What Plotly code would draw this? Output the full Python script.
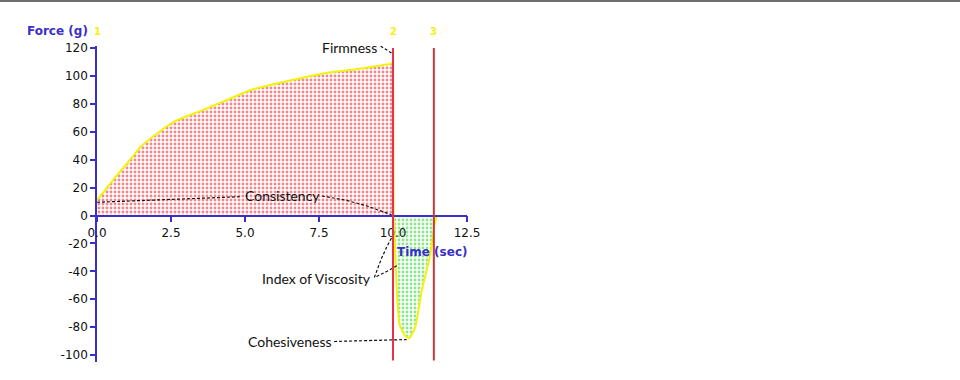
import plotly.graph_objects as go

# ---- data ----
t_pos = [0.0, 0.27, 0.6, 0.88, 1.2, 1.46, 2.04, 2.58, 3.5, 4.3, 5.2, 6.55, 7.7, 8.8, 9.95, 10.0]
f_pos = [11.0, 18.0, 27.0, 34.0, 42.0, 49.0, 59.0, 67.0, 75.0, 82.0, 90.0, 97.0, 102.0, 105.0, 109.0, 110.0]
t_peak = [10.0, 10.0, 10.02]
f_peak = [110.0, 118.0, 0.0]
t_neg = [10.02, 10.08, 10.15, 10.22, 10.4, 10.55, 10.75, 10.97, 11.24, 11.41, 11.48]
f_neg = [0.0, -30.0, -62.0, -78.0, -86.0, -88.0, -80.0, -54.0, -30.0, -6.0, 0.0]

x_ticks = [0.0, 2.5, 5.0, 7.5, 10.0, 12.5]
x_tick_labels = ["0.0", "2.5", "5.0", "7.5", "10.0", "12.5"]
y_ticks = [-100, -80, -60, -40, -20, 0, 20, 40, 60, 80, 100, 120]
y_tick_labels = ["-100", "-80", "-60", "-40", "-20", "0", "20", "40", "60", "80", "100", "120"]

markers_t = [0.0, 10.0, 11.38]
marker_labels = ["1", "2", "3"]

# ---- layout geometry ----
W, H = 960, 380
ML, MR, MT, MB = 97, 493, 46, 18
Y_MIN, Y_MAX = -105, 121.5
X_MIN, X_MAX = 0, 12.5
PW, PH = W - ML - MR, H - MT - MB

AXIS_BLUE = "#3a2fc8"
BLACK = "#111111"
YELLOW = "#f2f20a"
TXT_FONT = "Lato, Open Sans, sans-serif"


def px_x(p):
    return (p - ML) / PW


def px_y(p):
    return (H - MB - p) / PH


fig = go.Figure()

# red dotted area (positive part)
fig.add_trace(go.Scatter(
    x=t_pos, y=f_pos, mode="lines", fill="tozeroy",
    line=dict(color=YELLOW, width=2, shape="spline", smoothing=0.6),
    fillcolor="rgba(255,255,255,0)",
    fillpattern=dict(shape=".", fgcolor="#e0101c", bgcolor="rgba(255,255,255,0)", size=4, solidity=0.4),
    hoverinfo="skip"))

# green dotted area (negative part)
fig.add_trace(go.Scatter(
    x=t_neg, y=f_neg, mode="lines", fill="tozeroy",
    line=dict(color=YELLOW, width=2, shape="spline", smoothing=0.5),
    fillcolor="rgba(255,255,255,0)",
    fillpattern=dict(shape=".", fgcolor="#18d018", bgcolor="rgba(255,255,255,0)", size=4, solidity=0.4),
    hoverinfo="skip"))

# firmness spike
fig.add_trace(go.Scatter(x=t_peak, y=f_peak, mode="lines",
                         line=dict(color=YELLOW, width=2), hoverinfo="skip"))

# red vertical marker lines
for i, tm in enumerate(markers_t[1:]):
    fig.add_shape(type="line", x0=tm, x1=tm, y0=-104, y1=120, xref="x", yref="y",
                  line=dict(color="#e8324a" if i == 0 else "#c23a3a", width=2))

# dashed leader lines (annotation callouts)
leaders = [
    ([0.0, 2.0, 3.5, 4.9], [9.5, 11.0, 12.5, 13.5]),          # consistency left
    ([7.6, 8.4, 9.1, 9.6, 9.95], [14.0, 11.0, 7.0, 3.0, 0.5]),  # consistency right
    ([9.58, 9.98], [121.5, 116.0]),                            # firmness
    ([9.37, 9.61, 9.8, 10.05], [-44.4, -30.8, -22.0, -12.2]),  # viscosity a
    ([9.44, 9.8, 10.15], [-43.7, -40.0, -35.8]),               # viscosity b
    ([8.01, 10.46], [-90.3, -88.9]),                           # cohesiveness
]
for lx, ly in leaders:
    fig.add_trace(go.Scatter(x=lx, y=ly, mode="lines", cliponaxis=False,
                             line=dict(color=BLACK, width=1.2, dash="3px,2px"),
                             hoverinfo="skip"))

labels = [
    ("Consistency", 6.25, 14.0),
    ("Index of Viscosity", 7.43, -44.8),
    ("Cohesiveness", 6.52, -90.0),
]
for txt, lx, ly in labels:
    fig.add_annotation(x=lx, y=ly, xref="x", yref="y", text=txt, showarrow=False,
                       xanchor="center", yanchor="middle",
                       font=dict(family=TXT_FONT, size=14, color=BLACK))

# Firmness label sits above the y range -> place in domain coordinates
fig.add_annotation(x=px_x(349), y=px_y(47), xref="x domain", yref="y domain", text="Firmness",
                   showarrow=False, xanchor="center", yanchor="middle",
                   font=dict(family=TXT_FONT, size=14, color=BLACK))

# yellow marker numbers on top
for tm, lab in zip(markers_t, marker_labels):
    fig.add_annotation(x=px_x(ML + tm * PW / (X_MAX - X_MIN)), y=px_y(32),
                       xref="x domain", yref="y domain", text="<b>" + lab + "</b>",
                       showarrow=False, xanchor="center", yanchor="middle",
                       font=dict(family="DejaVu Sans", size=10, color=YELLOW))

# axis titles
fig.add_annotation(x=px_x(57), y=px_y(31), xref="x domain", yref="y domain",
                   text="<b>Force (g)</b>", showarrow=False, xanchor="center", yanchor="middle",
                   font=dict(family="DejaVu Sans", size=12, color=AXIS_BLUE))
fig.add_annotation(x=px_x(432), y=px_y(252), xref="x domain", yref="y domain",
                   text="<b>Time (sec)</b>", showarrow=False, xanchor="center", yanchor="middle",
                   font=dict(family="DejaVu Sans", size=12, color=AXIS_BLUE))

# top gray border
fig.add_shape(type="line", xref="paper", yref="paper",
              x0=px_x(0), x1=px_x(W), y0=px_y(1), y1=px_y(1),
              line=dict(color="#6e6e6e", width=2))

fig.update_layout(
    width=W, height=H, showlegend=False,
    margin=dict(l=ML, r=MR, t=MT, b=MB, pad=0),
    paper_bgcolor="white", plot_bgcolor="white",
    xaxis=dict(range=[X_MIN, X_MAX], tickvals=x_ticks, ticktext=x_tick_labels,
               anchor="free", position=(0 - Y_MIN) / (Y_MAX - Y_MIN),
               showgrid=False, zeroline=False, showline=True, linecolor=AXIS_BLUE, linewidth=1.5,
               ticks="outside", ticklen=6, tickcolor=AXIS_BLUE, tickwidth=1.5,
               tickfont=dict(family="DejaVu Sans", size=12, color=BLACK)),
    yaxis=dict(range=[Y_MIN, Y_MAX], tickvals=y_ticks, ticktext=y_tick_labels,
               showgrid=False, zeroline=False, showline=True, linecolor=AXIS_BLUE, linewidth=1.5,
               ticks="outside", ticklen=5, tickcolor=AXIS_BLUE, tickwidth=1.5,
               tickfont=dict(family="DejaVu Sans", size=12, color=BLACK)),
)

fig.write_html("out.html", config={"displayModeBar": False},
               post_script="document.body.style.margin='0';")
